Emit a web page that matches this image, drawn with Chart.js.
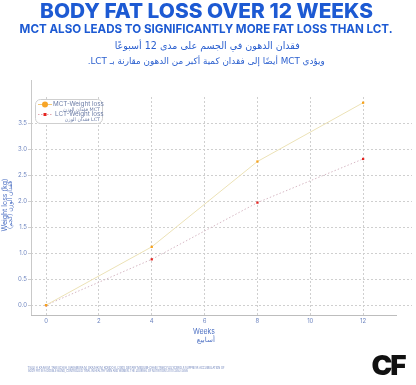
<!DOCTYPE html>
<html><head><meta charset="utf-8">
<script src="https://cdn.jsdelivr.net/npm/chart.js@4"></script>
<style>
html,body{margin:0;padding:0;background:#fff;}
#wrap{position:relative;width:416px;height:385px;overflow:hidden;}
#c{position:absolute;left:0;top:0;}
.t{position:absolute;white-space:nowrap;transform-origin:center center;}
</style></head><body>
<div id="wrap">
<canvas id="c" width="416" height="385"></canvas>
<div class="t" id="title" data-w="333" data-cx="206.5" data-cy="11" style="font:800 20.5px Inter;color:#1d5ad3;line-height:22px;">BODY FAT LOSS OVER 12 WEEKS</div>
<div class="t" id="sub" data-w="373" data-cx="206.5" data-cy="29" style="font:700 12.2px Inter;color:#1d5ad3;line-height:14px;">MCT ALSO LEADS TO SIGNIFICANTLY MORE FAT LOSS THAN LCT.</div>
<div class="t" id="ar1" dir="rtl" data-w="185" data-cx="207.5" data-cy="45.5" style="font:400 10px 'DejaVu Sans';color:#2a5fcf;line-height:14px;">فقدان الدهون في الجسم على مدى 12 أسبوعًا</div>
<div class="t" id="ar2" dir="rtl" data-w="237" data-cx="206.5" data-cy="61" style="font:400 9px 'DejaVu Sans';color:#2a5fcf;line-height:13px;">ويؤدي MCT أيضًا إلى فقدان كمية أكبر من الدهون مقارنة بـ LCT.</div>
<div class="t" id="ytEn" data-w="53" data-cx="4.5" data-cy="205" data-rot="-90" style="font:400 7px Inter;color:#4f72c4;line-height:8px;">Weight loss (kg)</div>
<div class="t" id="ytAr" dir="rtl" data-w="48" data-cx="10.5" data-cy="205" data-rot="-90" style="font:400 6.5px 'DejaVu Sans';color:#4f72c4;line-height:8px;">فقدان الوزن (كجم)</div>
<div class="t" id="xtEn" data-w="22" data-cx="204" data-cy="331" style="font:400 7.5px Inter;color:#4f72c4;line-height:9px;">Weeks</div>
<div class="t" id="xtAr" dir="rtl" data-w="18" data-cx="206" data-cy="340" style="font:400 7px 'DejaVu Sans';color:#4f72c4;line-height:9px;">أسابيع</div>
<div class="t" id="f1" data-w="197" data-cx="126.5" data-cy="367.5" style="font:400 3.2px Inter;color:#6a7fb8;line-height:4px;">TSUJI H, KASAI M, TAKEUCHI H, NAKAMURA M, OKAZAKI M, KONDO K. (2001) DIETARY MEDIUM-CHAIN TRIACYLGLYCEROLS SUPPRESS ACCUMULATION OF</div>
<div class="t" id="f2" data-w="160" data-cx="108" data-cy="371" style="font:400 3.2px Inter;color:#6a7fb8;line-height:4px;">BODY FAT IN A DOUBLE-BLIND, CONTROLLED TRIAL IN HEALTHY MEN AND WOMEN. THE JOURNAL OF NUTRITION 131(11):2853-2859.</div>
<div class="t" id="logo" data-w="33" data-cx="387.5" data-cy="366" style="font:900 27px Inter;color:#111;line-height:28px;letter-spacing:-2px;">CF</div>
</div>
<script>
// ---- data ----
const weeks = [0, 4, 8, 12];
const mctLoss = [0.0, 1.12, 2.76, 3.89];
const lctLoss = [0.0, 0.88, 1.97, 2.81];
const xTickValues = [0, 2, 4, 6, 8, 10, 12];
const yTickValues = [0, 0.5, 1.0, 1.5, 2.0, 2.5, 3.0, 3.5];
const seriesNames = ['MCT-Weight loss', 'LCT-Weight loss'];
const seriesNamesAr = ['فقدان الوزن MCT', 'فقدان الوزن LCT'];

// ---- fit text ----
document.querySelectorAll('.t').forEach(el => {
  const w = el.getBoundingClientRect().width;
  const h = el.getBoundingClientRect().height;
  const tw = +el.dataset.w, cx = +el.dataset.cx, cy = +el.dataset.cy;
  const rot = +(el.dataset.rot || 0);
  const s = tw / w;
  el.style.left = (cx - w / 2) + 'px';
  el.style.top = (cy - h / 2) + 'px';
  el.style.transform = (rot ? 'rotate(' + rot + 'deg) ' : '') + 'scaleX(' + s + ')';
});

const tickColor = '#6f86c0';
const gridColor = '#cfcfcf';

const decor = {
  id: 'decor',
  afterDraw(chart) {
    const ctx = chart.ctx;
    const area = chart.chartArea;
    ctx.save();
    // axis lines
    ctx.strokeStyle = '#c9c9c9';
    ctx.lineWidth = 1;
    ctx.beginPath();
    ctx.moveTo(area.left + 0.5, 80);
    ctx.lineTo(area.left + 0.5, area.bottom);
    ctx.stroke();
    ctx.strokeStyle = '#bdbdbd';
    ctx.lineWidth = 1.2;
    ctx.beginPath();
    ctx.moveTo(area.left, area.bottom + 0.5);
    ctx.lineTo(397, area.bottom + 0.5);
    ctx.stroke();
    // legend
    const lx = 35, ly = 99, lw = 67, lh = 24;
    ctx.fillStyle = '#fff';
    ctx.strokeStyle = '#cfcfcf';
    ctx.lineWidth = 1;
    ctx.beginPath();
    ctx.roundRect(lx + 0.5, ly + 0.5, lw, lh, 5);
    ctx.fill();
    ctx.stroke();
    const rows = [104.5, 114.5];
    ctx.strokeStyle = '#f3c879';
    ctx.beginPath(); ctx.moveTo(38, rows[0]); ctx.lineTo(52, rows[0]); ctx.stroke();
    ctx.fillStyle = '#f7a528';
    ctx.beginPath(); ctx.arc(45, rows[0], 3, 0, Math.PI * 2); ctx.fill();
    ctx.strokeStyle = '#e3a7b0';
    ctx.setLineDash([1.5, 1.5]);
    ctx.beginPath(); ctx.moveTo(38, rows[1]); ctx.lineTo(52, rows[1]); ctx.stroke();
    ctx.setLineDash([]);
    ctx.fillStyle = '#e52420';
    ctx.fillRect(43.5, rows[1] - 1.5, 3, 3);
    ctx.fillStyle = '#6b7ca6';
    ctx.textBaseline = 'middle';
    ctx.textAlign = 'left';
    ctx.font = '6.3px Inter';
    ctx.fillText(seriesNames[0], 53, rows[0]);
    ctx.fillText(seriesNames[1], 55, rows[1]);
    ctx.textAlign = 'right';
    ctx.font = '4.8px "DejaVu Sans"';
    ctx.fillText(seriesNamesAr[0], 100, rows[0] + 5);
    ctx.fillText(seriesNamesAr[1], 100, rows[1] + 5);
    ctx.restore();
  }
};

new Chart(document.getElementById('c'), {
  type: 'line',
  data: {
    datasets: [
      {
        label: seriesNames[0],
        data: weeks.map((w, i) => ({x: w, y: mctLoss[i]})),
        borderColor: '#ece2b6',
        borderWidth: 1,
        pointStyle: 'rect',
        pointRadius: 1.6,
        pointBackgroundColor: '#f7a21b',
        pointBorderWidth: 0,
        tension: 0,
        clip: false
      },
      {
        label: seriesNames[1],
        data: weeks.map((w, i) => ({x: w, y: lctLoss[i]})),
        borderColor: '#d6b8c4',
        borderWidth: 1,
        borderDash: [1.5, 2],
        pointStyle: 'rect',
        pointRadius: 1.6,
        pointBackgroundColor: '#e52420',
        pointBorderWidth: 0,
        tension: 0,
        clip: false
      }
    ]
  },
  options: {
    responsive: false,
    animation: false,
    devicePixelRatio: 1,
    layout: {padding: {top: 97, right: 3, left: 0, bottom: 0}},
    plugins: {legend: {display: false}, tooltip: {enabled: false}},
    scales: {
      x: {
        type: 'linear', min: -0.57, max: 13.85,
        afterBuildTicks: s => { s.ticks = xTickValues.map(v => ({value: v})); },
        afterFit: s => { s.height = 70; },
        grid: {color: gridColor, lineWidth: 1, drawTicks: false},
        border: {display: false, dash: [2, 2]},
        ticks: {color: tickColor, font: {family: 'Inter', size: 6}, padding: 3, maxRotation: 0}
      },
      y: {
        type: 'linear', min: -0.19, max: 4.0,
        afterBuildTicks: s => { s.ticks = yTickValues.map(v => ({value: v})); },
        afterFit: s => { s.width = 31; },
        grid: {color: gridColor, lineWidth: 1, tickLength: 3},
        border: {display: false, dash: [2, 2]},
        ticks: {color: tickColor, font: {family: 'Inter', size: 6}, padding: 1,
          callback: v => v.toFixed(1)}
      }
    }
  },
  plugins: [decor]
});
</script>
</body></html>
